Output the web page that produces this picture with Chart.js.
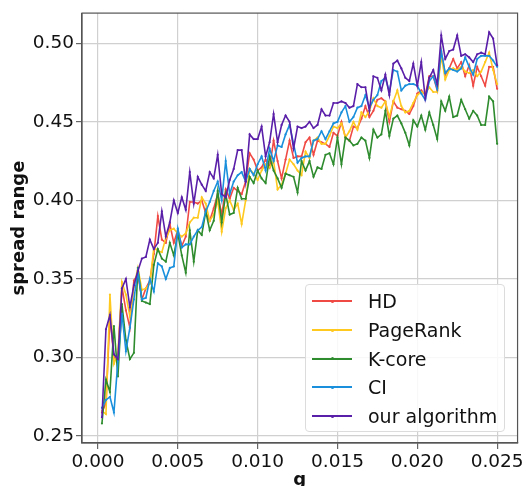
<!DOCTYPE html>
<html>
<head>
<meta charset="utf-8">
<script src="https://cdn.jsdelivr.net/npm/chart.js@4.4.1/dist/chart.umd.min.js"></script>
<style>
  body { margin: 0; background: #fff; }
  #wrap { position: relative; width: 526px; height: 486px; }
  #legend {
    position: absolute; left: 305px; top: 284px; width: 200px; height: 148px;
    border: 1px solid #dcdcdc; border-radius: 4px; background: rgba(255,255,255,0.85);
    font-family: "DejaVu Sans", sans-serif; font-size: 19px; color: #111;
    padding-top: 2px; box-sizing: border-box;
  }
  #legend .row { display: flex; align-items: center; height: 28.7px; }
  #legend .swatch { position: relative; width: 40px; height: 2px; margin-left: 6px; margin-right: 16px; }
  #legend .swatch i { position: absolute; left: 18.5px; top: -0.5px; width: 3px; height: 3px; border-radius: 50%; }
</style>
</head>
<body>
<div id="wrap">
  <canvas id="chart" width="526" height="486"></canvas>
  <div id="legend"></div>
</div>
<script>
const labels = ['HD', 'PageRank', 'K-core', 'CI', 'our algorithm'];
const colors = ['#f04a44', '#ffc91f', '#2e8b2e', '#1a90dc', '#5a1fa8'];

const hd = [0.265,0.271,0.326,0.300,0.299,0.345,0.330,0.319,0.349,0.353,
  0.337,0.344,0.349,0.366,0.390,0.375,0.373,0.385,0.373,0.381,
  0.371,0.377,0.399,0.399,0.398,0.400,0.392,0.387,0.395,0.404,
  0.391,0.407,0.401,0.408,0.406,0.404,0.412,0.430,0.426,0.419,
  0.421,0.426,0.421,0.438,0.425,0.414,0.426,0.438,0.427,0.428,
  0.428,0.437,0.440,0.429,0.438,0.437,0.436,0.434,0.443,0.441,
  0.450,0.440,0.438,0.447,0.446,0.452,0.460,0.453,0.457,0.464,
  0.465,0.463,0.450,0.463,0.459,0.458,0.457,0.455,0.460,0.468,
  0.470,0.467,0.479,0.479,0.470,0.495,0.480,0.484,0.490,0.484,
  0.488,0.479,0.486,0.473,0.485,0.479,0.473,0.485,0.485,0.471];

const pageRank = [0.266,0.264,0.340,0.296,0.303,0.348,0.340,0.326,0.345,0.357,
  0.343,0.344,0.347,0.370,0.368,0.367,0.376,0.381,0.382,0.379,
  0.377,0.379,0.386,0.389,0.389,0.402,0.398,0.387,0.391,0.400,
  0.380,0.395,0.400,0.394,0.398,0.385,0.400,0.420,0.417,0.413,
  0.419,0.423,0.421,0.425,0.407,0.410,0.417,0.426,0.423,0.419,
  0.416,0.431,0.427,0.438,0.440,0.436,0.436,0.441,0.447,0.446,
  0.449,0.440,0.444,0.450,0.445,0.456,0.453,0.457,0.465,0.460,
  0.459,0.463,0.453,0.463,0.470,0.460,0.456,0.457,0.462,0.467,
  0.469,0.468,0.472,0.469,0.469,0.492,0.477,0.483,0.484,0.483,
  0.485,0.482,0.481,0.483,0.479,0.482,0.488,0.494,0.483,0.474];

const kCore = [0.258,0.286,0.278,0.320,0.288,0.334,0.311,0.299,0.303,0.357,
  0.336,0.335,0.334,0.359,0.369,0.363,0.361,0.373,0.365,0.379,
  0.365,0.354,0.381,0.361,0.381,0.378,0.393,0.381,0.387,0.406,
  0.386,0.404,0.391,0.392,0.408,0.401,0.401,0.415,0.411,0.419,
  0.414,0.411,0.428,0.419,0.414,0.408,0.417,0.416,0.415,0.405,
  0.425,0.419,0.425,0.415,0.421,0.420,0.429,0.430,0.423,0.440,
  0.423,0.440,0.438,0.435,0.436,0.440,0.438,0.427,0.445,0.440,
  0.442,0.457,0.441,0.452,0.454,0.449,0.443,0.435,0.451,0.447,
  0.454,0.445,0.456,0.448,0.439,0.463,0.457,0.466,0.453,0.454,
  0.464,0.458,0.452,0.457,0.454,0.448,0.448,0.466,0.463,0.436];

const ci = [0.268,0.273,0.275,0.265,0.298,0.328,0.304,0.319,0.337,0.355,
  0.337,0.338,0.350,0.342,0.360,0.358,0.350,0.357,0.358,0.382,
  0.370,0.372,0.372,0.377,0.381,0.383,0.393,0.399,0.406,0.412,
  0.400,0.425,0.404,0.412,0.416,0.418,0.412,0.420,0.416,0.423,
  0.428,0.419,0.433,0.425,0.435,0.434,0.442,0.448,0.436,0.424,
  0.427,0.428,0.428,0.438,0.439,0.444,0.439,0.444,0.449,0.450,
  0.456,0.460,0.450,0.453,0.459,0.460,0.467,0.459,0.464,0.467,
  0.476,0.478,0.469,0.483,0.482,0.470,0.473,0.474,0.474,0.473,
  0.468,0.464,0.476,0.479,0.471,0.495,0.481,0.484,0.483,0.482,
  0.484,0.491,0.485,0.480,0.490,0.492,0.492,0.492,0.489,0.485];

const ours = [0.262,0.318,0.327,0.302,0.299,0.344,0.350,0.332,0.346,0.355,
  0.363,0.364,0.375,0.369,0.373,0.393,0.377,0.386,0.400,0.392,
  0.402,0.394,0.418,0.398,0.415,0.410,0.406,0.418,0.414,0.429,
  0.404,0.402,0.413,0.420,0.432,0.432,0.412,0.442,0.439,0.439,
  0.447,0.428,0.437,0.455,0.437,0.448,0.454,0.450,0.433,0.447,
  0.446,0.447,0.450,0.446,0.448,0.458,0.454,0.454,0.462,0.462,
  0.463,0.462,0.459,0.460,0.474,0.472,0.472,0.457,0.479,0.478,
  0.470,0.480,0.467,0.487,0.489,0.484,0.478,0.476,0.487,0.473,
  0.488,0.465,0.478,0.483,0.474,0.505,0.490,0.495,0.496,0.505,
  0.492,0.493,0.491,0.488,0.493,0.494,0.493,0.507,0.503,0.486];

// g runs 0.00025 .. 0.025 in steps of 0.00025
const gStep = 0.00025;
const gValues = hd.map((_, i) => +(gStep * (i + 1)).toFixed(5));

const xTicks = [0, 0.005, 0.010, 0.015, 0.020, 0.025];
const yTicks = [0.25, 0.30, 0.35, 0.40, 0.45, 0.50];

const seriesList = [hd, pageRank, kCore, ci, ours];

const datasets = seriesList.map((vals, k) => ({
  label: labels[k],
  data: vals.map((v, i) => ({ x: gValues[i], y: v })),
  borderColor: colors[k],
  backgroundColor: colors[k],
  borderWidth: 1.6,
  pointRadius: 1.1,
  pointBorderWidth: 0,
  pointHoverRadius: 1.1,
  tension: 0,
  order: seriesList.length - 1 - k
}));

// top and right spines
const frame = {
  id: 'frame',
  afterDatasetsDraw(chart) {
    const a = chart.chartArea;
    const ctx = chart.ctx;
    ctx.save();
    ctx.strokeStyle = '#555';
    ctx.lineWidth = 1.2;
    ctx.strokeRect(a.left, a.top, a.right - a.left, a.bottom - a.top);
    ctx.restore();
  }
};

const tickFont = { family: 'DejaVu Sans', size: 18.5 };
const titleFont = { family: 'DejaVu Sans', size: 18, weight: 'bold' };

new Chart(document.getElementById('chart').getContext('2d'), {
  type: 'line',
  data: { datasets: datasets },
  options: {
    responsive: false,
    animation: false,
    layout: { padding: { top: 11, right: 8.3, left: 0, bottom: 0 } },
    plugins: { legend: { display: false }, tooltip: { enabled: false } },
    scales: {
      x: {
        type: 'linear',
        min: -0.001,
        max: 0.02628,
        afterBuildTicks: s => { s.ticks = xTicks.map(v => ({ value: v })); },
        afterFit: s => { s.height = 43; },
        ticks: { font: tickFont, color: '#111', padding: 2, maxRotation: 0,
          callback: v => v.toFixed(3) },
        grid: { color: '#d0d0d0', lineWidth: 1.2, tickLength: 6, tickColor: '#666' },
        border: { color: '#555', width: 1.2 },
        title: { display: true, text: 'g', font: titleFont, color: '#111', padding: { top: 0, bottom: -5 } }
      },
      y: {
        min: 0.2456,
        max: 0.5192,
        afterBuildTicks: s => { s.ticks = yTicks.map(v => ({ value: v })); },
        afterFit: s => { s.width = 82; },
        ticks: { font: tickFont, color: '#111', padding: 2,
          callback: v => v.toFixed(2) },
        grid: { color: '#d0d0d0', lineWidth: 1.2, tickLength: 6, tickColor: '#666' },
        border: { color: '#555', width: 1.2 },
        title: { display: true, text: 'spread range', font: titleFont, color: '#111', padding: { top: 9, bottom: 0 } }
      }
    }
  },
  plugins: [frame]
});

// legend box inside the plot, built from the same labels and colours
const legendEl = document.getElementById('legend');
labels.forEach((name, k) => {
  const row = document.createElement('div');
  row.className = 'row';
  row.innerHTML = '<span class="swatch" style="background:' + colors[k] + '"><i style="background:' + colors[k] + '"></i></span><span>' + name + '</span>';
  legendEl.appendChild(row);
});
</script>
</body>
</html>
